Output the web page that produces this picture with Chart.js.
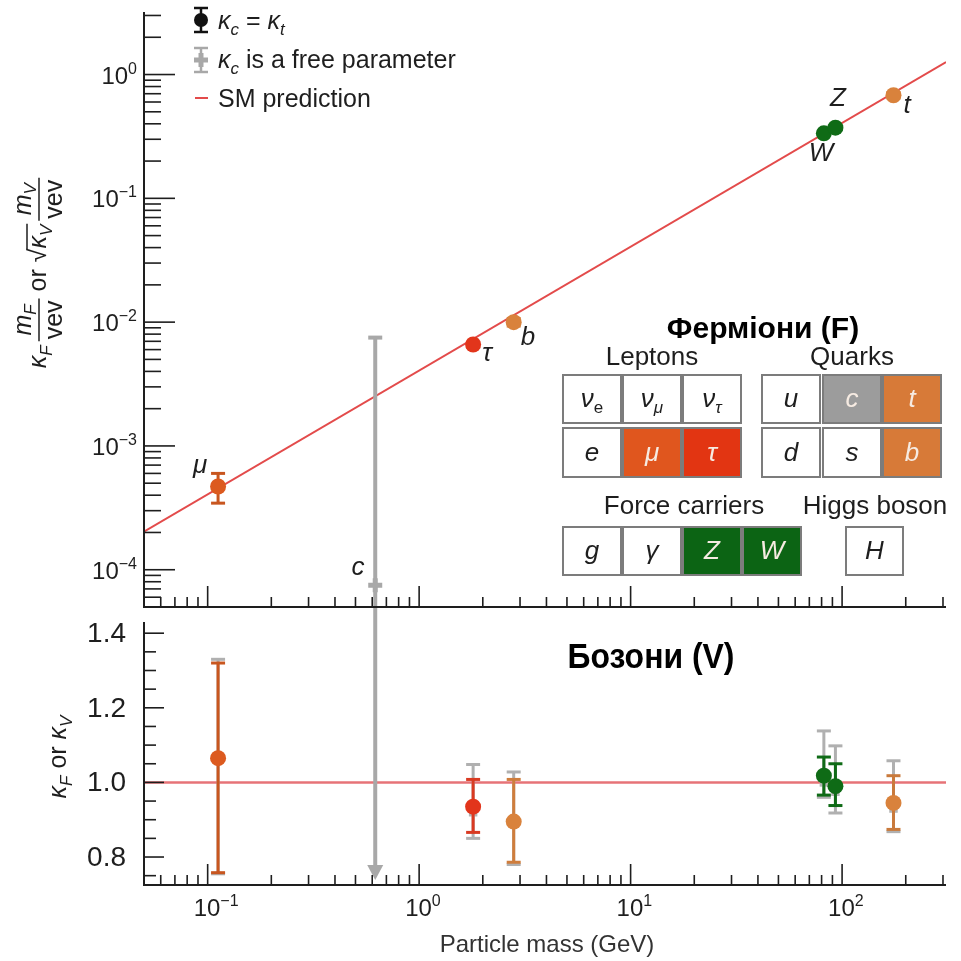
<!DOCTYPE html>
<html>
<head>
<meta charset="utf-8">
<script src="https://cdn.jsdelivr.net/npm/chart.js@4.4.1/dist/chart.umd.min.js"></script>
<style>
  body { margin: 0; background: #fff; }
  #wrap { position: relative; width: 961px; height: 961px; }
  canvas { position: absolute; left: 0; top: 0; }
</style>
</head>
<body>
<div id="wrap">
  <canvas id="bottomChart" width="961" height="961"></canvas>
  <canvas id="topChart" width="961" height="961"></canvas>
</div>
<script>
// ---- data ----
const particles = ['μ', 'c', 'τ', 'b', 'W', 'Z', 't'];
const massGeV   = [0.112, 0.62, 1.8, 2.8, 82, 93, 175];
const pointColors = ['#dc5a1f', '#a8a8a8', '#e2351b', '#d9823c', '#0f6b16', '#0f6b16', '#d9823c'];
const barColors   = ['#c8561f', '#a8a8a8', '#d93a22', '#cf7d3c', '#0f6b16', '#0f6b16', '#c97a3c'];

// top panel: kappa_F * m_F / vev  (or sqrt(kappa_V) * m_V / vev)
const coupling   = [4.7e-4, null, 6.6e-3, 1.0e-2, 0.335, 0.372, 0.68];
const couplingLo = [3.45e-4, null, 6.3e-3, 9.3e-3, 0.327, 0.362, 0.645];
const couplingHi = [6.0e-4, null, 6.85e-3, 1.07e-2, 0.343, 0.382, 0.715];
// kappa_c free fit (only c is visible in the top panel)
const couplingFree   = [null, 7.5e-5, null, null, null, null, null];
const couplingFreeHi = [null, 7.5e-3, null, null, null, null, null];

// bottom panel: kappa_F or kappa_V
const kappa   = [1.065, null, 0.935, 0.895, 1.018, 0.99, 0.945];
const kappaLo = [0.758, null, 0.866, 0.786, 0.966, 0.938, 0.874];
const kappaHi = [1.32, null, 1.008, 1.008, 1.068, 1.05, 1.018];
const kappaFree   = [1.06, 0.03, 0.92, 0.89, 1.0, 0.975, 0.93];
const kappaFreeLo = [0.755, null, 0.85, 0.78, 0.96, 0.918, 0.868];
const kappaFreeHi = [1.33, 3.0, 1.048, 1.028, 1.138, 1.098, 1.058];

// SM prediction
const smMass = [0.05, 310];
const smCoupling = [2.03e-4, 1.26];
const smKappa = [1, 1];

// axes
const X_MIN = 0.05, X_MAX = 310;
const Y_TOP_MIN = 5e-5, Y_TOP_MAX = 3.2;
const Y_BOT_MIN = 0.725, Y_BOT_MAX = 1.43;
const xDecades = [-1, 0, 1, 2];
const yTopDecades = [0, -1, -2, -3, -4];
const yBottomMajor = [0.8, 1.0, 1.2, 1.4];
const yBottomLabels = ['0.8', '1.0', '1.2', '1.4'];

const FONT = '"Liberation Sans", Arial, Helvetica, sans-serif';
const INK = '#1e1e1e';

function font(s) {
  return (s.italic ? 'italic ' : '') + (s.bold ? 'bold ' : '') + s.size + 'px ' + FONT;
}
function richWidth(ctx, segs) {
  let w = 0;
  segs.forEach(s => { ctx.font = font(s); w += ctx.measureText(s.t).width + (s.gap || 0); });
  return w;
}
function richDraw(ctx, segs, x, y) {
  segs.forEach(s => {
    ctx.font = font(s);
    ctx.fillText(s.t, x, y + (s.dy || 0));
    x += ctx.measureText(s.t).width + (s.gap || 0);
  });
  return x;
}
function seg(ctx, x1, y1, x2, y2) {
  ctx.beginPath(); ctx.moveTo(x1, y1); ctx.lineTo(x2, y2); ctx.stroke();
}
function logMinor(minV, maxV) {
  const out = [];
  for (let d = Math.floor(Math.log10(minV)); d <= Math.ceil(Math.log10(maxV)); d++) {
    for (let m = 2; m <= 9; m++) {
      const v = m * Math.pow(10, d);
      if (v >= minV && v <= maxV) out.push(v);
    }
  }
  return out;
}
function powLabel(e) {
  return [{t: '10', size: 24}, {t: e < 0 ? '−' + Math.abs(e) : String(e), size: 16, dy: -10}];
}

function xTicks(ctx, x, a) {
  ctx.lineWidth = 1.6;
  xDecades.forEach(e => { const p = x.getPixelForValue(Math.pow(10, e)); seg(ctx, p, a.bottom, p, a.bottom - 21); });
  logMinor(X_MIN, X_MAX).forEach(v => { const p = x.getPixelForValue(v); seg(ctx, p, a.bottom, p, a.bottom - 10); });
}

// error bars: drawn before the matching dataset so dots sit on top
function drawBar(ctx, px, top, bot, color, lw, capTop, capBot) {
  ctx.strokeStyle = color; ctx.lineWidth = lw;
  seg(ctx, px, top, px, bot);
  if (capTop) seg(ctx, px - 7, top, px + 7, top);
  if (capBot) seg(ctx, px - 7, bot, px + 7, bot);
}

const topErrors = {
  id: 'topErrors',
  beforeDatasetDraw(chart, args) {
    const {ctx, chartArea: a, scales: {x, y}} = chart;
    const ds = chart.data.datasets[args.index];
    ctx.save();
    if (ds.errKind === 'free') {
      massGeV.forEach((m, i) => {
        if (couplingFree[i] == null) return;
        const px = x.getPixelForValue(m);
        drawBar(ctx, px, y.getPixelForValue(couplingFreeHi[i]), a.bottom, '#a8a8a8', 4, true, false);
      });
    } else if (ds.errKind === 'main') {
      massGeV.forEach((m, i) => {
        if (coupling[i] == null) return;
        const px = x.getPixelForValue(m);
        drawBar(ctx, px, y.getPixelForValue(couplingHi[i]), y.getPixelForValue(couplingLo[i]), barColors[i], 3, true, true);
      });
    }
    ctx.restore();
  }
};

const bottomErrors = {
  id: 'bottomErrors',
  beforeDatasetDraw(chart, args) {
    const {ctx, chartArea: a, scales: {x, y}} = chart;
    const ds = chart.data.datasets[args.index];
    ctx.save();
    if (ds.errKind === 'free') {
      massGeV.forEach((m, i) => {
        const px = x.getPixelForValue(m);
        const hi = kappaFreeHi[i], lo = kappaFreeLo[i], v = kappaFree[i];
        const topOff = hi > Y_BOT_MAX;
        const top = topOff ? a.top - 15 : y.getPixelForValue(hi);
        if (v < Y_BOT_MIN) {
          const tip = a.bottom - 5;
          drawBar(ctx, px, top, tip - 12, '#a8a8a8', 4, !topOff, false);
          ctx.fillStyle = '#a8a8a8';
          ctx.beginPath(); ctx.moveTo(px - 8, tip - 15); ctx.lineTo(px + 8, tip - 15); ctx.lineTo(px, tip); ctx.closePath(); ctx.fill();
        } else {
          drawBar(ctx, px, top, y.getPixelForValue(lo), '#b0b0b0', 3, true, true);
        }
      });
    } else if (ds.errKind === 'main') {
      massGeV.forEach((m, i) => {
        if (kappa[i] == null) return;
        const px = x.getPixelForValue(m);
        drawBar(ctx, px, y.getPixelForValue(kappaHi[i]), y.getPixelForValue(kappaLo[i]), barColors[i], 3, true, true);
      });
    }
    ctx.restore();
  }
};

const tableCells = [
  {x: 563, y: 375, w: 58, h: 48, t: 'ν', sub: 'e', fill: '#ffffff'},
  {x: 623, y: 375, w: 58, h: 48, t: 'ν', sub: 'μ', subItalic: true, fill: '#ffffff'},
  {x: 683, y: 375, w: 58, h: 48, t: 'ν', sub: 'τ', subItalic: true, fill: '#ffffff'},
  {x: 563, y: 428, w: 58, h: 49, t: 'e', fill: '#ffffff'},
  {x: 623, y: 428, w: 58, h: 49, t: 'μ', fill: '#e0561e'},
  {x: 683, y: 428, w: 58, h: 49, t: 'τ', fill: '#e23512'},
  {x: 762, y: 375, w: 58, h: 48, t: 'u', fill: '#ffffff'},
  {x: 823, y: 375, w: 58, h: 48, t: 'c', fill: '#9c9c9c'},
  {x: 883, y: 375, w: 58, h: 48, t: 't', fill: '#d77a38'},
  {x: 762, y: 428, w: 58, h: 49, t: 'd', fill: '#ffffff'},
  {x: 823, y: 428, w: 58, h: 49, t: 's', fill: '#ffffff'},
  {x: 883, y: 428, w: 58, h: 49, t: 'b', fill: '#d77a38'},
  {x: 563, y: 527, w: 58, h: 48, t: 'g', fill: '#ffffff'},
  {x: 623, y: 527, w: 58, h: 48, t: 'γ', fill: '#ffffff'},
  {x: 683, y: 527, w: 58, h: 48, t: 'Z', fill: '#0c6414'},
  {x: 743, y: 527, w: 58, h: 48, t: 'W', fill: '#0c6414'},
  {x: 846, y: 527, w: 57, h: 48, t: 'H', fill: '#ffffff'}
];

function drawTable(ctx) {
  tableCells.forEach(c => {
    ctx.fillStyle = c.fill; ctx.fillRect(c.x, c.y, c.w, c.h);
    ctx.strokeStyle = '#7c7c7c'; ctx.lineWidth = 2; ctx.strokeRect(c.x, c.y, c.w, c.h);
    const segs = [{t: c.t, size: 26, italic: true}];
    if (c.sub) segs.push({t: c.sub, size: 17, italic: !!c.subItalic, dy: 6});
    const w = richWidth(ctx, segs);
    ctx.fillStyle = c.fill === '#ffffff' ? INK : '#f6ebe2';
    richDraw(ctx, segs, c.x + c.w / 2 - w / 2, c.y + c.h / 2 + 8);
  });
  ctx.fillStyle = INK;
  ctx.textAlign = 'center';
  ctx.font = font({size: 26});
  ctx.fillText('Leptons', 652, 365);
  ctx.fillText('Quarks', 852, 365);
  ctx.fillText('Force carriers', 684, 514);
  ctx.fillText('Higgs boson', 875, 514);
  ctx.fillStyle = '#000';
  ctx.font = font({size: 30, bold: true});
  ctx.fillText('Ферміони (F)', 763, 338);
  ctx.textAlign = 'left';
}

// y title of the top panel: kappa_F m_F/vev or sqrt(kappa_V) m_V/vev
function drawTopTitle(ctx) {
  const S = 25, s = 17;
  const k1 = [{t: 'κ', size: S, italic: true}, {t: 'F', size: s, italic: true, dy: 6, gap: 4}];
  const n1 = [{t: 'm', size: S, italic: true}, {t: 'F', size: s, italic: true, dy: 5}];
  const orT = [{t: ' or ', size: S}];
  const k2 = [{t: 'κ', size: S, italic: true}, {t: 'V', size: s, italic: true, dy: 6, gap: 4}];
  const n2 = [{t: 'm', size: S, italic: true}, {t: 'V', size: s, italic: true, dy: 5}];
  const den = [{t: 'vev', size: S}];
  const fracW = num => Math.max(richWidth(ctx, num), richWidth(ctx, den)) + 4;
  const frac = (num, xx) => {
    const wn = richWidth(ctx, num), wd = richWidth(ctx, den), w = fracW(num);
    richDraw(ctx, num, xx + (w - wn) / 2, -15);
    richDraw(ctx, den, xx + (w - wd) / 2, 16);
    ctx.lineWidth = 1.5; ctx.strokeStyle = INK;
    seg(ctx, xx, -7, xx + w, -7);
    return xx + w;
  };
  ctx.font = font({size: S});
  const rootW = ctx.measureText('√').width;
  const total = richWidth(ctx, k1) + fracW(n1) + richWidth(ctx, orT) + rootW + richWidth(ctx, k2) + fracW(n2);
  let cx = -total / 2;
  cx = richDraw(ctx, k1, cx, 0);
  cx = frac(n1, cx);
  cx = richDraw(ctx, orT, cx, 0);
  ctx.font = font({size: S});
  ctx.fillText('√', cx, 0);
  cx += rootW;
  const k2start = cx;
  cx = richDraw(ctx, k2, cx, 0);
  ctx.lineWidth = 1.5; ctx.strokeStyle = INK;
  seg(ctx, k2start - 1, -19, cx - 3, -19);
  frac(n2, cx);
}

const topDecor = {
  id: 'topDecor',
  afterDatasetsDraw(chart) {
    const {ctx, chartArea: a, scales: {x, y}} = chart;
    ctx.save();
    ctx.strokeStyle = INK; ctx.lineWidth = 2;
    ctx.beginPath(); ctx.moveTo(a.left, a.top); ctx.lineTo(a.left, a.bottom); ctx.lineTo(a.right, a.bottom); ctx.stroke();
    ctx.lineWidth = 1.6;
    yTopDecades.forEach(e => { const p = y.getPixelForValue(Math.pow(10, e)); seg(ctx, a.left, p, a.left + 31, p); });
    logMinor(Y_TOP_MIN, Y_TOP_MAX).forEach(v => { const p = y.getPixelForValue(v); seg(ctx, a.left, p, a.left + 17, p); });
    xTicks(ctx, x, a);

    // y tick labels
    ctx.fillStyle = INK;
    yTopDecades.forEach(e => {
      const p = y.getPixelForValue(Math.pow(10, e));
      const segs = powLabel(e);
      richDraw(ctx, segs, 137 - richWidth(ctx, segs), p + 9);
    });

    ctx.save();
    ctx.translate(46, 273);
    ctx.rotate(-Math.PI / 2);
    drawTopTitle(ctx);
    ctx.restore();

    // point labels
    ctx.fillStyle = INK;
    ctx.font = font({size: 26, italic: true});
    ctx.textAlign = 'center'; ctx.textBaseline = 'middle';
    [['μ', 200, 466], ['τ', 487, 354], ['b', 528, 338], ['c', 358, 568], ['Z', 838, 99], ['W', 821, 154], ['t', 907, 106]]
      .forEach(([t, px, py]) => ctx.fillText(t, px, py));
    ctx.textAlign = 'left'; ctx.textBaseline = 'alphabetic';

    // legend
    ctx.strokeStyle = '#111'; ctx.lineWidth = 2.5;
    seg(ctx, 201, 8, 201, 32); seg(ctx, 194, 8, 208, 8); seg(ctx, 194, 32, 208, 32);
    ctx.fillStyle = '#111';
    ctx.beginPath(); ctx.arc(201, 20, 7, 0, Math.PI * 2); ctx.fill();
    ctx.strokeStyle = '#a8a8a8';
    seg(ctx, 201, 48, 201, 72); seg(ctx, 194, 48, 208, 48); seg(ctx, 194, 72, 208, 72);
    ctx.lineWidth = 5;
    seg(ctx, 194, 60, 208, 60); seg(ctx, 201, 53, 201, 67);
    ctx.strokeStyle = '#e34b4b'; ctx.lineWidth = 2;
    seg(ctx, 195, 98, 208, 98);
    ctx.fillStyle = INK;
    richDraw(ctx, [{t: 'κ', size: 25, italic: true}, {t: 'c', size: 17, italic: true, dy: 6}, {t: ' = ', size: 25},
      {t: 'κ', size: 25, italic: true}, {t: 't', size: 17, italic: true, dy: 6}], 218, 29);
    richDraw(ctx, [{t: 'κ', size: 25, italic: true}, {t: 'c', size: 17, italic: true, dy: 6}, {t: ' is a free parameter', size: 25}], 218, 68);
    richDraw(ctx, [{t: 'SM prediction', size: 25}], 218, 107);

    drawTable(ctx);
    ctx.restore();
  }
};

const bottomDecor = {
  id: 'bottomDecor',
  afterDatasetsDraw(chart) {
    const {ctx, chartArea: a, scales: {x, y}} = chart;
    ctx.save();
    ctx.strokeStyle = INK; ctx.lineWidth = 2;
    ctx.beginPath(); ctx.moveTo(a.left, a.top); ctx.lineTo(a.left, a.bottom); ctx.lineTo(a.right, a.bottom); ctx.stroke();
    ctx.lineWidth = 1.6;
    for (let v = 0.75; v <= Y_BOT_MAX; v += 0.05) {
      const major = yBottomMajor.some(m => Math.abs(m - v) < 1e-6);
      const p = y.getPixelForValue(v);
      seg(ctx, a.left, p, a.left + (major ? 20 : 12), p);
    }
    xTicks(ctx, x, a);

    ctx.fillStyle = INK;
    ctx.font = font({size: 28});
    ctx.textAlign = 'right'; ctx.textBaseline = 'middle';
    yBottomMajor.forEach((v, i) => ctx.fillText(yBottomLabels[i], 126, y.getPixelForValue(v) + 1));
    ctx.textAlign = 'left'; ctx.textBaseline = 'alphabetic';

    xDecades.forEach(e => {
      const p = x.getPixelForValue(Math.pow(10, e));
      richDraw(ctx, powLabel(e), p - 14, 916);
    });

    ctx.fillStyle = '#333';
    ctx.font = font({size: 24});
    ctx.textAlign = 'center';
    ctx.fillText('Particle mass (GeV)', 547, 952);

    // Бозони (V)
    ctx.fillStyle = '#000';
    ctx.font = font({size: 35, bold: true});
    const bw = ctx.measureText('Бозони (V)').width;
    ctx.save();
    ctx.translate(651, 668);
    ctx.scale(167 / bw, 1);
    ctx.fillText('Бозони (V)', 0, 0);
    ctx.restore();
    ctx.textAlign = 'left';

    // y title
    ctx.fillStyle = INK;
    ctx.save();
    ctx.translate(66, 757);
    ctx.rotate(-Math.PI / 2);
    const t = [{t: 'κ', size: 25, italic: true}, {t: 'F', size: 17, italic: true, dy: 6}, {t: ' or ', size: 25},
      {t: 'κ', size: 25, italic: true}, {t: 'V', size: 17, italic: true, dy: 6}];
    richDraw(ctx, t, -richWidth(ctx, t) / 2, 0);
    ctx.restore();
    ctx.restore();
  }
};

function pts(xs, ys, keep) {
  const out = [];
  xs.forEach((v, i) => { if (ys[i] != null && (!keep || keep(ys[i]))) out.push({x: v, y: ys[i]}); });
  return out;
}
function colorsFor(ys) {
  return pointColors.filter((c, i) => ys[i] != null);
}

const baseOptions = (padTop, padBottom, yScale) => ({
  responsive: false,
  animation: false,
  events: [],
  layout: {padding: {left: 144, right: 15, top: padTop, bottom: padBottom}},
  plugins: {legend: {display: false}, tooltip: {enabled: false}},
  scales: {
    x: {type: 'logarithmic', min: X_MIN, max: X_MAX, display: false},
    y: Object.assign({display: false}, yScale)
  }
});

new Chart(document.getElementById('topChart'), {
  type: 'scatter',
  data: {
    datasets: [
      {data: pts(smMass, smCoupling), showLine: true, borderColor: '#e34b4b', borderWidth: 1.8, pointRadius: 0, order: 3},
      {data: pts(massGeV, couplingFree), errKind: 'free', pointStyle: 'cross', pointRadius: 7, borderWidth: 5,
        borderColor: '#a8a8a8', order: 2},
      {data: pts(massGeV, coupling), errKind: 'main', pointRadius: 8, borderWidth: 0,
        backgroundColor: colorsFor(coupling), order: 1}
    ]
  },
  options: baseOptions(5, 961 - 607, {type: 'logarithmic', min: Y_TOP_MIN, max: Y_TOP_MAX}),
  plugins: [topErrors, topDecor]
});

new Chart(document.getElementById('bottomChart'), {
  type: 'scatter',
  data: {
    datasets: [
      {data: pts(smMass, smKappa), showLine: true, borderColor: 'rgba(226,90,95,0.85)', borderWidth: 2.5, pointRadius: 0, order: 3},
      {data: pts(massGeV, kappaFree, v => v >= Y_BOT_MIN), errKind: 'free', pointStyle: 'rect', pointRadius: 6,
        borderWidth: 0, backgroundColor: '#b4b4b4', order: 2},
      {data: pts(massGeV, kappa), errKind: 'main', pointRadius: 8, borderWidth: 0,
        backgroundColor: colorsFor(kappa), order: 1}
    ]
  },
  options: baseOptions(622, 961 - 885, {type: 'linear', min: Y_BOT_MIN, max: Y_BOT_MAX}),
  plugins: [bottomErrors, bottomDecor]
});
</script>
</body>
</html>
